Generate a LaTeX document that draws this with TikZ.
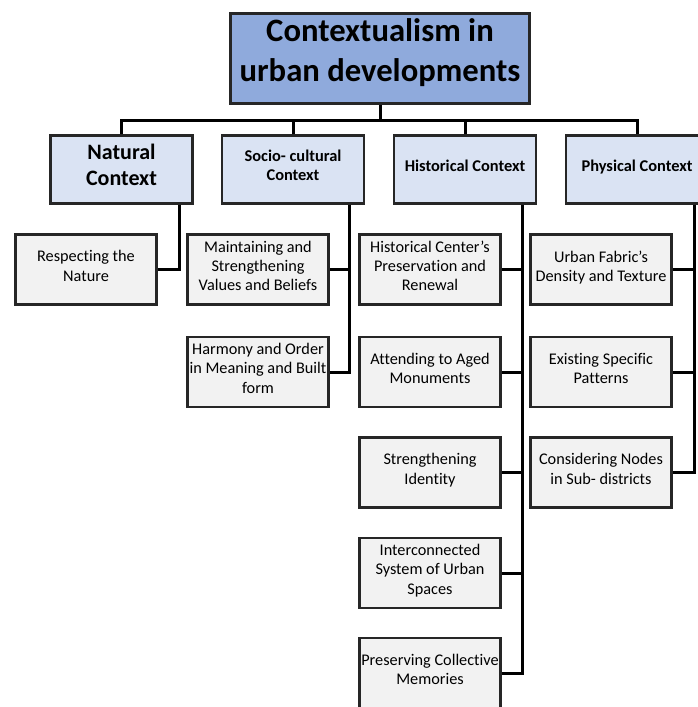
\documentclass[tikz,border=0pt]{standalone}
\usepackage{fontspec}
\setmainfont{Carlito}[RawFeature=-liga]
\tikzset{every picture/.style={line width=0.75pt}}
\definecolor{titlefill}{RGB}{143,170,220}
\definecolor{lvlfill}{RGB}{218,227,243}
\definecolor{itemfill}{RGB}{242,242,242}
\definecolor{boxline}{RGB}{38,38,38}
\tikzset{
  titlebox/.style={draw=boxline, fill=titlefill, line width=2pt, minimum width=224.5pt, minimum height=67.7pt, inner sep=0pt, align=center, text depth=12pt, font=\fontsize{24.5}{30}\selectfont\bfseries},
  lvlbox/.style={draw=boxline, fill=lvlfill, line width=2pt, minimum width=106.5pt, minimum height=51.2pt, inner sep=0pt, align=center, text depth=6pt, font=\fontsize{12.3}{14}\selectfont\bfseries},
  itembox/.style={draw=boxline, fill=itemfill, line width=2pt, minimum width=106pt, minimum height=52.7pt, inner sep=0pt, align=center, text depth=5.5pt, font=\fontsize{12.2}{14.3}\selectfont},
  link/.style={line width=2.25pt, black}
}

\begin{document}
\begin{tikzpicture}[x=0.75pt,y=0.75pt,yscale=-1,xscale=1]
\useasboundingbox (0,0) rectangle (698,707);
\clip (0,0) rectangle (698,707);

% Title
\node[titlebox] (title) at (380,58.5) {Contextualism in\\urban developments};

% Level one
\node[lvlbox, text depth=7.5pt, font=\fontsize{16.5}{19.5}\selectfont\bfseries] (nat) at (121.5,169.5) {Natural\\Context};
\node[lvlbox] (soc) at (293,169.5) {Socio- cultural\\Context};
\node[lvlbox] (his) at (465,169.5) {Historical Context};
\node[lvlbox] (phy) at (637,169.5) {Physical Context};

% Natural items
\node[itembox] (nat1) at (86,269.5) {Respecting the\\Nature};

% Socio-cultural items
\node[itembox] (soc1) at (258,269.5) {Maintaining and\\Strengthening\\Values and Beliefs};
\node[itembox] (soc2) at (258,372) {Harmony and Order\\in Meaning and Built\\form};

% Historical items
\node[itembox] (his1) at (430,269.5) {Historical Center's\\Preservation and\\Renewal};
\node[itembox] (his2) at (430,372) {Attending to Aged\\Monuments};
\node[itembox] (his3) at (430,472.5) {Strengthening\\Identity};
\node[itembox] (his4) at (430,573) {Interconnected\\System of Urban\\Spaces};
\node[itembox] (his5) at (430,673) {Preserving Collective\\Memories};

% Physical items
\node[itembox] (phy1) at (601,269.5) {Urban Fabric's\\Density and Texture};
\node[itembox] (phy2) at (601,372) {Existing Specific\\Patterns};
\node[itembox] (phy3) at (601,472.5) {Considering Nodes\\in Sub- districts};

% Bus and drop points
\coordinate (bus) at (380,120);
\coordinate (natdrop) at (179,0);
\coordinate (socdrop) at (349,0);
\coordinate (hisdrop) at (522,0);
\coordinate (phydrop) at (694,0);

% Top level links
\draw[link] (title.south) -- (bus);
\draw[link] (nat.north) |- (bus) -| (phy.north);
\draw[link] (soc.north) -- (soc.north |- bus);
\draw[link] (his.north) -- (his.north |- bus);

% Item links
\draw[link] (nat.south -| natdrop) |- (nat1.east);
\draw[link] (soc.south -| socdrop) |- (soc2.east);
\draw[link] (soc1.east) -- (soc1.east -| socdrop);
\draw[link] (his.south -| hisdrop) |- (his5.east);
\foreach \n in {his1,his2,his3,his4}
  \draw[link] (\n.east) -- (\n.east -| hisdrop);
\draw[link] (phy.south -| phydrop) |- (phy3.east);
\foreach \n in {phy1,phy2}
  \draw[link] (\n.east) -- (\n.east -| phydrop);

\end{tikzpicture}
\end{document}
